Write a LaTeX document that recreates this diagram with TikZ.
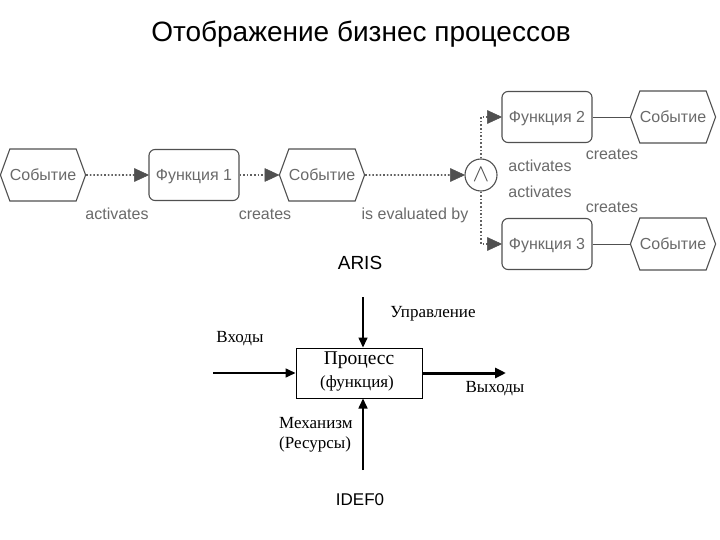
\documentclass[tikz,border=0pt]{standalone}
\usepackage{fontspec}
\setmainfont{Liberation Serif}
\setsansfont{Liberation Sans}
\usetikzlibrary{arrows.meta,shapes.symbols}
\definecolor{arisline}{HTML}{505050}
\definecolor{aristext}{HTML}{6A6A6A}
\tikzset{
  event/.style={signal, signal to=east and west, signal pointer angle=140, draw=arisline, line width=1.1pt,
    minimum width=82pt, minimum height=52pt, inner sep=0pt, text=aristext,
    font=\sffamily\fontsize{16}{18}\selectfont},
  func/.style={rectangle, rounded corners=6pt, draw=arisline, line width=1.1pt,
    minimum width=90pt, minimum height=51pt, inner sep=0pt, text=aristext,
    text height=11.5pt, text depth=0pt,
    font=\sffamily\fontsize{16}{18}\selectfont},
  andop/.style={circle, draw=arisline, line width=1.1pt, minimum size=32pt, inner sep=0pt, text=arisline},
  dotedge/.style={draw=arisline!90, line width=1.6pt, dotted, shorten >=13pt},
  tiphead/.style={fill=arisline, draw=arisline, line width=0.5pt, line join=round},
  solidedge/.style={draw=arisline, line width=0.9pt},
  elabel/.style={text=aristext, font=\sffamily\fontsize{16}{18}\selectfont, inner sep=0pt},
  idbox/.style={rectangle, draw=black, line width=1pt, minimum width=126pt, minimum height=50pt, inner sep=0pt},
  idarrow/.style={draw=black, line width=1.6pt, -{Triangle[length=10pt,width=9pt]}},
  idtext/.style={font=\rmfamily\fontsize{17}{19}\selectfont, inner sep=0pt, align=left},
}
\newcommand{\tipat}[1]{\filldraw[tiphead] (#1) -- ++(-14,-6.5) -- ++(0,13) -- cycle;}
\begin{document}
\begin{tikzpicture}[x=1pt,y=-1pt]
\useasboundingbox[fill=white] (0,0) rectangle (720,540);
% title
\node[font=\sffamily\fontsize{28}{30}\selectfont, inner sep=0pt] (title) at (361,34) {Отображение бизнес процессов};
% ARIS row
\node[event] (ev1) at (43,175) {Событие};
\node[func] (f1) at (194,175) {Функция 1};
\node[event] (ev2) at (322,175) {Событие};
\node[andop] (and) at (481,175) {\sffamily\fontsize{24}{24}\selectfont$\wedge$};
\node[func] (f2) at (547,117) {Функция 2};
\node[func] (f3) at (547,244) {Функция 3};
\node[event] (ev3) at (673,117) {Событие};
\node[event] (ev4) at (673,244) {Событие};
\draw[dotedge] (ev1) -- (f1);
\tipat{f1.west}
\draw[dotedge] (f1) -- (ev2);
\tipat{ev2.west}
\draw[dotedge] (ev2) -- (and);
\tipat{and.west}
\draw[dotedge] (and.north) |- (f2.west);
\tipat{f2.west}
\draw[dotedge] (and.south) |- (f3.west);
\tipat{f3.west}
\draw[solidedge] (f2) -- (ev3);
\draw[solidedge] (f3) -- (ev4);
\node[elabel] (l1) at (117,214) {activates};
\node[elabel] (l2) at (265,214) {creates};
\node[elabel] (l3) at (415,215) {is evaluated by};
\node[elabel] (l4) at (540,166) {activates};
\node[elabel] (l5) at (540,192) {activates};
\node[elabel] (l6) at (612,154) {creates};
\node[elabel] (l7) at (612,207) {creates};
\node[font=\sffamily\fontsize{19}{20}\selectfont, inner sep=0pt] (aris) at (360,263) {ARIS};
% IDEF0
\node[idbox] (box) at (359,373) {};
\node[font=\rmfamily\fontsize{19.5}{21}\selectfont, inner sep=0pt] (proc) at (359,360) {Процесс};
\node[idtext] (fn) at (357,383) {(функция)};
\coordinate (ctop) at (363,297);
\coordinate (mbot) at (363,470);
\coordinate (inl) at (213,373);
\coordinate (outr) at (506,373);
\draw[idarrow] (ctop) -- (ctop |- box.north);
\draw[idarrow] (mbot) -- (mbot |- box.south);
\draw[idarrow] (inl) -- (box.west);
\draw[draw=black, line width=3pt, -{Triangle[length=11pt,width=10pt]}] (box.east) -- (outr);
\node[idtext] (upr) at (433,314) {Управление};
\node[idtext] (vh) at (240,339) {Входы};
\node[idtext] (vyh) at (495,389) {Выходы};
\node[idtext, anchor=west, font=\rmfamily\fontsize{17}{20}\selectfont] (mech) at (279,435) {Механизм\\(Ресурсы)};
\node[font=\sffamily\fontsize{17}{18}\selectfont, inner sep=0pt] (idef) at (360,500) {IDEF0};
\end{tikzpicture}
\end{document}
